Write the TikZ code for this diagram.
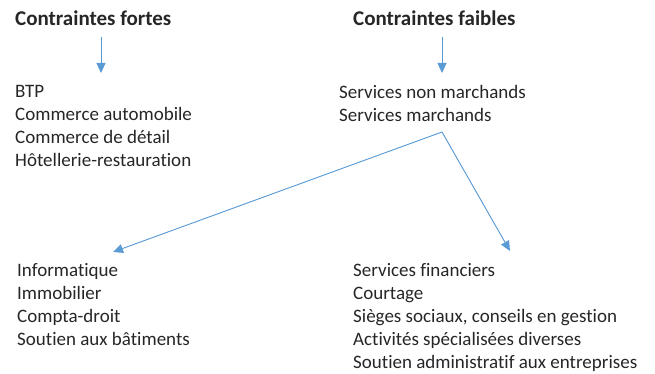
\documentclass[tikz,border=0pt]{standalone}
\usepackage{fontspec}
\setmainfont{Carlito}[Ligatures=NoCommon]
\usetikzlibrary{arrows.meta}
\definecolor{arrowblue}{HTML}{5B9BD5}
\definecolor{txtgray}{HTML}{262626}
\tikzset{
  txt/.style={inner sep=0pt, anchor=base west, text=txtgray, font=\fontsize{19}{23}\selectfont},
  ttl/.style={txt, font=\fontsize{21}{23}\selectfont\bfseries},
  arr/.style={draw=arrowblue, line width=0.9pt, -{Triangle[length=10pt,width=9pt]}, fill=arrowblue}
}
\begin{document}
\begin{tikzpicture}[x=1pt,y=-1pt]
\useasboundingbox (0,0) rectangle (655,374);
% titles
\node[ttl] (cf) at (15,26) {Contraintes fortes};
\node[ttl] (cw) at (353,26) {Contraintes faibles};
% lists
\foreach \t [count=\i] in {BTP, Commerce automobile, Commerce de détail, Hôtellerie-restauration}
  \node[txt] (f\i) at (15,{98+23*(\i-1)}) {\t};
\foreach \t [count=\i] in {Services non marchands, Services marchands}
  \node[txt] (w\i) at (339,{99+23*(\i-1)}) {\t};
\foreach \t [count=\i] in {Informatique, Immobilier, Compta-droit, Soutien aux bâtiments}
  \node[txt] (l\i) at (17,{276+23*(\i-1)}) {\t};
\foreach \t [count=\i] in {Services financiers, Courtage, {Sièges sociaux, conseils en gestion}, Activités spécialisées diverses, Soutien administratif aux entreprises}
  \node[txt] (r\i) at (353,{276+23*(\i-1)}) {\t};
% connector ends
\coordinate (a1s) at (101,37);
\coordinate (a1e) at (101,73);
\coordinate (a2s) at (442,37);
\coordinate (a2e) at (442,73);
\coordinate (br) at (442,132);
\coordinate (lt) at (113,252);
\coordinate (rt) at (510,251);
\draw[arr] (a1s) -- (a1e);
\draw[arr] (a2s) -- (a2e);
\draw[arr] (br) -- (lt);
\draw[arr] (br) -- (rt);
\end{tikzpicture}
\end{document}
